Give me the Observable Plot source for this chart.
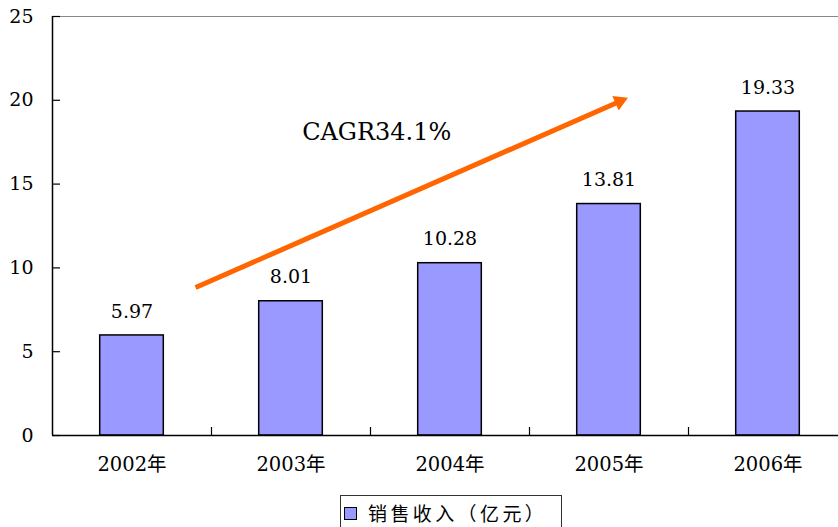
<!DOCTYPE html>
<html>
<head>
<meta charset="utf-8">
<script src="https://cdn.jsdelivr.net/npm/d3@7"></script>
<script src="https://cdn.jsdelivr.net/npm/@observablehq/plot@0.6"></script>
<style>
  html, body { margin: 0; padding: 0; background: #fff; }
  #wrap { position: relative; width: 838px; height: 527px; overflow: hidden; }
  #legend {
    position: absolute; left: 340px; top: 495px; width: 222px; height: 40px;
    border: 1px solid #333; box-sizing: border-box; background: #fff;
    font-family: "Noto Sans CJK SC", sans-serif; font-size: 19px; letter-spacing: 3.4px;
    display: flex; align-items: flex-start; padding-top: 3px;
  }
  #legend .sw { width: 11px; height: 11px; background: #9999FF; border: 1px solid #000;
    margin: 8px 11px 0 3px; flex: none; }
</style>
</head>
<body>
<div id="wrap"><div id="chart"></div>
<div id="legend"><span class="sw"></span><span id="legtext"></span></div></div>
<script>
const years = ["2002年", "2003年", "2004年", "2005年", "2006年"];
const revenue = [5.97, 8.01, 10.28, 13.81, 19.33];
const yTicks = [0, 5, 10, 15, 20, 25];
const seriesName = "销售收入（亿元）";
const cagrLabel = "CAGR34.1%";
// annotation arrow in data coordinates (x = category index, y = value)
const arrowFrom = {x: 0.4, y: 8.83};
const arrowTo = {x: 3.067, y: 19.93};
const cagrPos = {x: 1.07, y: 18.1};

const data = years.map((year, i) => ({year, i, value: revenue[i]}));
const bounds = years.slice(1).map((_, i) => i + 0.5);
const serif = "DejaVu Serif, Noto Sans CJK SC";

const chart = Plot.plot({
  width: 838,
  height: 495,
  marginTop: 16,
  marginBottom: 60,
  marginLeft: 52,
  marginRight: 0,
  style: {fontSize: "19px", fontFamily: serif, color: "#000", background: "#fff"},
  x: {domain: [-0.5, 4.5], range: [52, 847], label: null},
  y: {domain: [0, 25], range: [435, 16], label: null},
  marks: [
    Plot.ruleY([25], {stroke: "#888", strokeWidth: 1.2}),
    Plot.rectY(data, {x1: d => d.i - 0.2, x2: d => d.i + 0.2, y1: 0, y2: "value",
      fill: "#9999FF", stroke: "#000", strokeWidth: 1.5}),
    Plot.text(data, {x: "i", y: "value", text: d => d.value.toFixed(2), dy: -24,
      lineAnchor: "middle", fontSize: 19, fill: "#000", fontFamily: serif}),
    Plot.ruleX([-0.5], {stroke: "#000", strokeWidth: 1.5}),
    Plot.ruleY([0], {stroke: "#000", strokeWidth: 1.5}),
    Plot.axisY({ticks: yTicks, tickSize: -8, tickPadding: 27, tickFormat: d => d, label: null,
      fontSize: 19, stroke: "#000", strokeWidth: 1.2, fontFamily: serif}),
    Plot.axisX({ticks: years.map((_, i) => i), tickSize: 0, tickPadding: 22, label: null,
      tickFormat: i => years[i], fontSize: 19.5, fontFamily: serif}),
    Plot.axisX({ticks: bounds, tickSize: -8, tickFormat: () => "", label: null, stroke: "#000", strokeWidth: 1.2}),
    Plot.link([0], {x1: () => arrowFrom.x, y1: () => arrowFrom.y, x2: () => arrowTo.x, y2: () => arrowTo.y,
      stroke: "#FF6600", strokeWidth: 5}),
    Plot.dot([0], {x: () => arrowTo.x, y: () => arrowTo.y, symbol: "triangle2", r: 7.5,
      rotate: 66.3, fill: "#FF6600"}),
    Plot.text([cagrLabel], {x: () => cagrPos.x, y: () => cagrPos.y, text: d => d,
      textAnchor: "start", lineAnchor: "middle", fontSize: 24, fill: "#000", fontFamily: serif})
  ]
});
document.getElementById("chart").appendChild(chart);
document.getElementById("legtext").textContent = seriesName;
</script>
</body>
</html>
